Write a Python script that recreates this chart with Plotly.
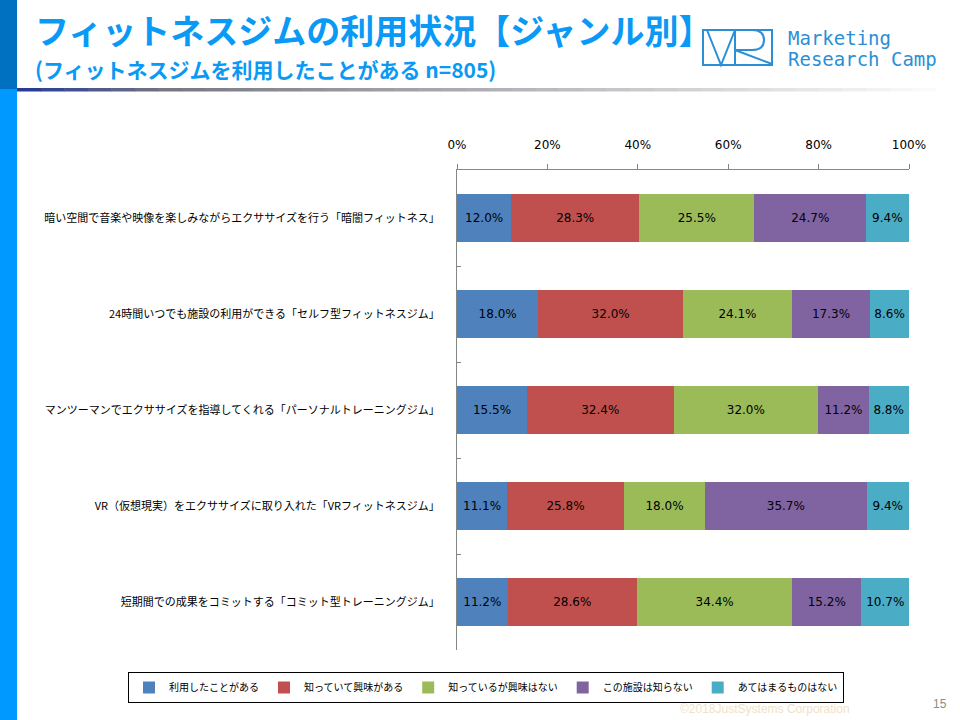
import plotly.graph_objects as go

categories = [
    "暗い空間で音楽や映像を楽しみながらエクササイズを行う「暗闇フィットネス」",
    "24時間いつでも施設の利用ができる「セルフ型フィットネスジム」",
    "マンツーマンでエクササイズを指導してくれる「パーソナルトレーニングジム」",
    "VR（仮想現実）をエクササイズに取り入れた「VRフィットネスジム」",
    "短期間での成果をコミットする「コミット型トレーニングジム」",
]
series_names = ["利用したことがある", "知っていて興味がある", "知っているが興味はない", "この施設は知らない", "あてはまるものはない"]
used = [12.0, 18.0, 15.5, 11.1, 11.2]
interested = [28.3, 32.0, 32.4, 25.8, 28.6]
not_interested = [25.5, 24.1, 32.0, 18.0, 34.4]
unknown = [24.7, 17.3, 11.2, 35.7, 15.2]
none_apply = [9.4, 8.6, 8.8, 9.4, 10.7]
colors = ["#4F81BD", "#C0504D", "#9BBB59", "#8064A2", "#4BACC6"]
x_tick_vals = [0, 20, 40, 60, 80, 100]
x_tick_text = ["0%", "20%", "40%", "60%", "80%", "100%"]

title = "フィットネスジムの利用状況【ジャンル別】"
subtitle = "(フィットネスジムを利用したことがある n=805)"

# plot area in pixels
L, R, T, B = 457, 909, 170, 650
W, H = 960, 720


def px(x):
    return (x - L) / (R - L)


def py(y):
    return (B - y) / (B - T)


fig = go.Figure()
for name, vals, col in zip(series_names, [used, interested, not_interested, unknown, none_apply], colors):
    fig.add_trace(go.Bar(
        y=categories, x=vals, name=name, orientation="h",
        marker=dict(color=col, line=dict(width=0)),
        text=[f"{v:.1f}%" for v in vals], textposition="inside",
        insidetextanchor="middle", textangle=0,
        textfont=dict(family="DejaVu Sans", size=12, color="#000000"),
        hoverinfo="skip",
    ))

shapes = []
# left stripe
shapes.append(dict(type="rect", xref="paper", yref="paper", x0=px(0), x1=px(17), y0=py(0), y1=py(720),
                   fillcolor="#0099FF", line=dict(width=0), layer="below"))
shapes.append(dict(type="rect", xref="paper", yref="paper", x0=px(0), x1=px(17), y0=py(0), y1=py(89),
                   fillcolor="#0070C0", line=dict(width=0), layer="below"))
# gradient line under title
n = 40
x_start, x_end = 17, 960
for i in range(n):
    t = i / (n - 1)
    if t < 0.15:
        u = t / 0.15
        c = (int(40 + (120 - 40) * u), int(60 + (120 - 60) * u), int(150 + (130 - 150) * u))
    else:
        u = (t - 0.15) / 0.85
        c = (int(120 + (255 - 120) * u), int(120 + (255 - 120) * u), int(130 + (255 - 130) * u))
    xa = x_start + (x_end - x_start) * i / n
    xb = x_start + (x_end - x_start) * (i + 1) / n
    shapes.append(dict(type="rect", xref="paper", yref="paper", x0=px(xa), x1=px(xb + 0.5), y0=py(88), y1=py(91.5),
                       fillcolor="rgb(%d,%d,%d)" % c, line=dict(width=0), layer="below"))
# VR logo
logo_col = "#2A8FD6"
lw = dict(color=logo_col, width=2)
shapes.append(dict(type="rect", xref="paper", yref="paper", x0=px(703), x1=px(772), y0=py(30), y1=py(65),
                   line=lw))
shapes.append(dict(type="path", xref="paper", yref="paper",
                   path=f"M {px(707)},{py(30)} L {px(721)},{py(65)} L {px(735)},{py(30)}", line=lw))
shapes.append(dict(type="path", xref="paper", yref="paper",
                   path=(f"M {px(735)},{py(65)} L {px(735)},{py(30)} L {px(752)},{py(30)} "
                         f"Q {px(764)},{py(30)} {px(764)},{py(40)} Q {px(764)},{py(50)} {px(752)},{py(50)} "
                         f"L {px(735)},{py(50)} L {px(772)},{py(64)}"), line=lw))

annotations = [
    dict(text=f"<b>{title}</b>", x=px(33), y=py(30), xref="paper", yref="paper", xanchor="left", yanchor="middle",
         showarrow=False, font=dict(family="Noto Sans CJK JP", size=34, color="#0A99F5")),
    dict(text=f"<b>{subtitle}</b>", x=px(33), y=py(69), xref="paper", yref="paper", xanchor="left", yanchor="middle",
         showarrow=False, font=dict(family="Noto Sans CJK JP", size=21, color="#0A99F5")),
    dict(text="Marketing", x=px(786), y=py(38), xref="paper", yref="paper", xanchor="left", yanchor="middle",
         showarrow=False, font=dict(family="DejaVu Sans Mono", size=19, color=logo_col)),
    dict(text="Research Camp", x=px(786), y=py(59), xref="paper", yref="paper", xanchor="left", yanchor="middle",
         showarrow=False, font=dict(family="DejaVu Sans Mono", size=19, color=logo_col)),
    dict(text="©2018JustSystems Corporation", x=px(765), y=py(709), xref="paper", yref="paper", xanchor="center",
         yanchor="middle", showarrow=False, font=dict(family="Liberation Sans Narrow, Liberation Sans", size=12, color="#F0E2C8")),
    dict(text="15", x=px(940), y=py(704), xref="paper", yref="paper", xanchor="center",
         yanchor="middle", showarrow=False, font=dict(family="Liberation Sans", size=12, color="#8C8C8C")),
]

fig.update_layout(
    width=W, height=H,
    margin=dict(l=L, r=W - R, t=T, b=H - B, pad=0, autoexpand=False),
    barmode="stack", bargap=0.5,
    plot_bgcolor="white", paper_bgcolor="white",
    showlegend=True,
    legend=dict(orientation="h", x=px(128), xanchor="left", y=py(672), yanchor="top",
                bordercolor="#000000", borderwidth=1, font=dict(family="Noto Sans CJK JP", size=10, color="#000"),
                itemwidth=30, tracegroupgap=0, traceorder="normal", bgcolor="rgba(255,255,255,0)"),
    uniformtext=dict(minsize=12, mode="show"),
    shapes=shapes, annotations=annotations,
)
fig.update_xaxes(range=[0, 100], side="top", tickvals=x_tick_vals, ticktext=x_tick_text,
                 showgrid=False, zeroline=False, showline=True, linecolor="#868686", linewidth=1,
                 ticks="outside", ticklen=5, tickcolor="#868686",
                 tickfont=dict(family="DejaVu Sans", size=12, color="#000"), ticklabelstandoff=10, fixedrange=True)
fig.update_yaxes(autorange="reversed", showgrid=False, zeroline=False, showline=True, linecolor="#868686",
                 linewidth=1, ticks="inside", ticklen=4, tickcolor="#868686", tickson="boundaries",
                 tickfont=dict(family="Noto Sans CJK JP", size=11, color="#000"), ticklabelstandoff=14,
                 fixedrange=True)

fig.write_html("out.html")
